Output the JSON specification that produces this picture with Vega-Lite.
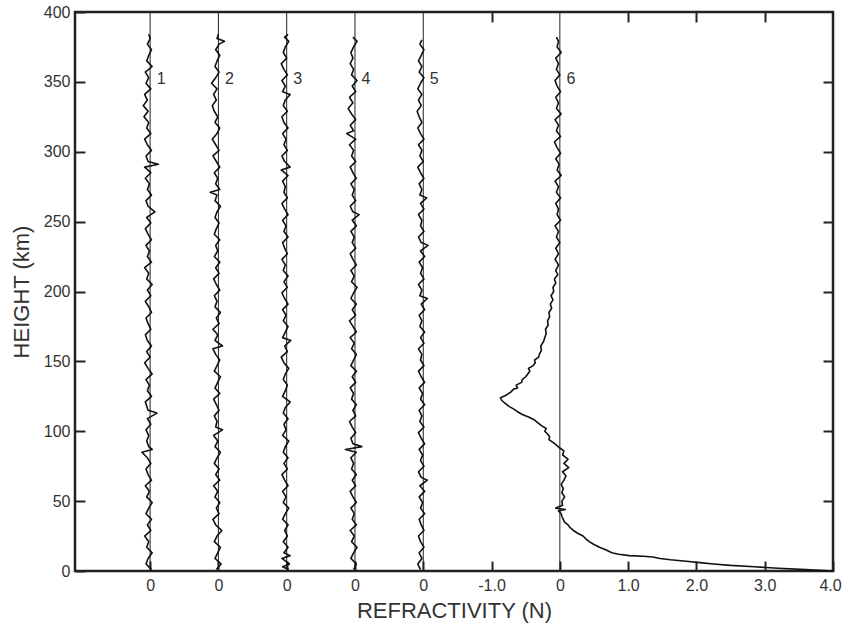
{
"$schema": "https://vega.github.io/schema/vega-lite/v6.json",
"width": 758, "height": 559,
"autosize": {"type": "none"},
"padding": {"left": 75, "top": 12, "right": 10, "bottom": 52},
"background": "white",
"config": {
  "view": {"stroke": "#222", "strokeWidth": 2.5},
  "font": "Liberation Sans",
  "axis": {"domain": false, "grid": false, "tickColor": "#222", "tickWidth": 2, "labelColor": "#333", "titleColor": "#333", "labelFont": "Liberation Sans", "titleFont": "Liberation Sans", "labelFontSize": 16, "titleFontSize": 22, "titleFontWeight": "normal", "labelFlush": false, "labelOverlap": false}
},
"datasets": {
  "labels": [{"p":1,"label":"1"},{"p":2,"label":"2"},{"p":3,"label":"3"},{"p":4,"label":"4"},{"p":5,"label":"5"},{"p":6,"label":"6"}],
  "prof": [
{"p":1,"h":1,"n":0.02},{"p":1,"h":5,"n":-0.06},{"p":1,"h":9,"n":-0.03},{"p":1,"h":13,"n":0.03},{"p":1,"h":17,"n":-0.05},{"p":1,"h":21,"n":-0.02},{"p":1,"h":25,"n":-0.08},{"p":1,"h":29,"n":0.01},{"p":1,"h":33,"n":-0.04},{"p":1,"h":37,"n":0.02},{"p":1,"h":41,"n":-0.06},{"p":1,"h":45,"n":-0.02},{"p":1,"h":49,"n":0.03},{"p":1,"h":53,"n":-0.05},{"p":1,"h":57,"n":-0.01},{"p":1,"h":61,"n":-0.07},{"p":1,"h":65,"n":0.02},{"p":1,"h":69,"n":-0.03},{"p":1,"h":73,"n":-0.06},{"p":1,"h":77,"n":0.01},{"p":1,"h":81,"n":-0.04},{"p":1,"h":85,"n":-0.12},{"p":1,"h":87,"n":0.03},{"p":1,"h":89,"n":-0.02},{"p":1,"h":93,"n":-0.05},{"p":1,"h":97,"n":-0.02},{"p":1,"h":101,"n":-0.06},{"p":1,"h":105,"n":0.01},{"p":1,"h":109,"n":-0.04},{"p":1,"h":113,"n":0.1},{"p":1,"h":115,"n":-0.03},{"p":1,"h":121,"n":-0.07},{"p":1,"h":125,"n":0.02},{"p":1,"h":129,"n":-0.04},{"p":1,"h":133,"n":-0.01},{"p":1,"h":137,"n":-0.06},{"p":1,"h":141,"n":0.03},{"p":1,"h":145,"n":-0.03},{"p":1,"h":149,"n":-0.08},{"p":1,"h":153,"n":0.0},{"p":1,"h":157,"n":-0.05},{"p":1,"h":161,"n":0.02},{"p":1,"h":165,"n":-0.04},{"p":1,"h":169,"n":-0.07},{"p":1,"h":173,"n":0.01},{"p":1,"h":177,"n":-0.03},{"p":1,"h":181,"n":-0.06},{"p":1,"h":185,"n":0.02},{"p":1,"h":189,"n":-0.02},{"p":1,"h":193,"n":-0.07},{"p":1,"h":197,"n":0.01},{"p":1,"h":201,"n":-0.04},{"p":1,"h":205,"n":0.03},{"p":1,"h":209,"n":-0.05},{"p":1,"h":213,"n":-0.02},{"p":1,"h":217,"n":-0.08},{"p":1,"h":221,"n":0.02},{"p":1,"h":225,"n":-0.04},{"p":1,"h":229,"n":-0.01},{"p":1,"h":233,"n":-0.06},{"p":1,"h":237,"n":0.02},{"p":1,"h":241,"n":-0.03},{"p":1,"h":245,"n":-0.07},{"p":1,"h":249,"n":0.01},{"p":1,"h":253,"n":-0.05},{"p":1,"h":257,"n":0.07},{"p":1,"h":261,"n":-0.03},{"p":1,"h":265,"n":-0.06},{"p":1,"h":269,"n":0.02},{"p":1,"h":273,"n":-0.04},{"p":1,"h":277,"n":-0.01},{"p":1,"h":281,"n":-0.07},{"p":1,"h":285,"n":0.01},{"p":1,"h":289,"n":-0.08},{"p":1,"h":291,"n":0.12},{"p":1,"h":293,"n":-0.03},{"p":1,"h":297,"n":-0.06},{"p":1,"h":301,"n":0.02},{"p":1,"h":305,"n":-0.04},{"p":1,"h":309,"n":-0.08},{"p":1,"h":313,"n":0.01},{"p":1,"h":317,"n":-0.05},{"p":1,"h":321,"n":-0.02},{"p":1,"h":325,"n":-0.09},{"p":1,"h":329,"n":-0.03},{"p":1,"h":333,"n":-0.1},{"p":1,"h":337,"n":-0.04},{"p":1,"h":341,"n":-0.08},{"p":1,"h":345,"n":0.01},{"p":1,"h":349,"n":-0.06},{"p":1,"h":353,"n":-0.02},{"p":1,"h":357,"n":-0.07},{"p":1,"h":361,"n":0.03},{"p":1,"h":365,"n":-0.05},{"p":1,"h":369,"n":-0.02},{"p":1,"h":373,"n":0.02},{"p":1,"h":377,"n":-0.04},{"p":1,"h":381,"n":0.0},{"p":1,"h":384,"n":-0.02},
{"p":2,"h":1,"n":-0.03},{"p":2,"h":5,"n":0.04},{"p":2,"h":9,"n":-0.05},{"p":2,"h":13,"n":-0.01},{"p":2,"h":17,"n":0.03},{"p":2,"h":21,"n":-0.06},{"p":2,"h":25,"n":-0.02},{"p":2,"h":29,"n":0.05},{"p":2,"h":33,"n":-0.04},{"p":2,"h":37,"n":-0.08},{"p":2,"h":41,"n":0.01},{"p":2,"h":45,"n":-0.03},{"p":2,"h":49,"n":0.02},{"p":2,"h":53,"n":-0.05},{"p":2,"h":57,"n":-0.01},{"p":2,"h":61,"n":-0.07},{"p":2,"h":65,"n":0.02},{"p":2,"h":69,"n":-0.04},{"p":2,"h":73,"n":0.01},{"p":2,"h":77,"n":-0.06},{"p":2,"h":81,"n":-0.02},{"p":2,"h":85,"n":0.03},{"p":2,"h":89,"n":-0.05},{"p":2,"h":93,"n":-0.01},{"p":2,"h":97,"n":-0.07},{"p":2,"h":101,"n":0.06},{"p":2,"h":103,"n":-0.04},{"p":2,"h":107,"n":-0.02},{"p":2,"h":111,"n":-0.06},{"p":2,"h":115,"n":0.01},{"p":2,"h":119,"n":-0.03},{"p":2,"h":123,"n":-0.07},{"p":2,"h":127,"n":0.02},{"p":2,"h":131,"n":-0.05},{"p":2,"h":135,"n":-0.01},{"p":2,"h":139,"n":0.03},{"p":2,"h":143,"n":-0.06},{"p":2,"h":147,"n":-0.02},{"p":2,"h":151,"n":0.02},{"p":2,"h":155,"n":-0.04},{"p":2,"h":159,"n":-0.08},{"p":2,"h":161,"n":0.06},{"p":2,"h":165,"n":-0.05},{"p":2,"h":169,"n":-0.01},{"p":2,"h":173,"n":-0.08},{"p":2,"h":177,"n":0.01},{"p":2,"h":181,"n":-0.03},{"p":2,"h":185,"n":0.03},{"p":2,"h":189,"n":-0.05},{"p":2,"h":193,"n":-0.02},{"p":2,"h":197,"n":-0.06},{"p":2,"h":201,"n":0.02},{"p":2,"h":205,"n":-0.03},{"p":2,"h":209,"n":-0.07},{"p":2,"h":213,"n":0.01},{"p":2,"h":217,"n":-0.04},{"p":2,"h":221,"n":0.02},{"p":2,"h":225,"n":-0.06},{"p":2,"h":229,"n":-0.01},{"p":2,"h":233,"n":-0.04},{"p":2,"h":237,"n":0.02},{"p":2,"h":241,"n":-0.06},{"p":2,"h":245,"n":-0.03},{"p":2,"h":249,"n":0.01},{"p":2,"h":253,"n":-0.05},{"p":2,"h":257,"n":-0.02},{"p":2,"h":261,"n":0.03},{"p":2,"h":265,"n":-0.05},{"p":2,"h":269,"n":-0.02},{"p":2,"h":271,"n":-0.12},{"p":2,"h":273,"n":0.02},{"p":2,"h":277,"n":-0.04},{"p":2,"h":281,"n":-0.01},{"p":2,"h":285,"n":-0.06},{"p":2,"h":289,"n":0.02},{"p":2,"h":293,"n":-0.03},{"p":2,"h":297,"n":-0.08},{"p":2,"h":301,"n":0.01},{"p":2,"h":305,"n":-0.04},{"p":2,"h":309,"n":-0.09},{"p":2,"h":313,"n":-0.02},{"p":2,"h":317,"n":0.02},{"p":2,"h":321,"n":-0.05},{"p":2,"h":325,"n":-0.01},{"p":2,"h":329,"n":-0.06},{"p":2,"h":333,"n":-0.09},{"p":2,"h":337,"n":-0.03},{"p":2,"h":341,"n":-0.07},{"p":2,"h":345,"n":-0.02},{"p":2,"h":349,"n":-0.1},{"p":2,"h":353,"n":-0.04},{"p":2,"h":357,"n":0.01},{"p":2,"h":361,"n":-0.05},{"p":2,"h":365,"n":-0.02},{"p":2,"h":369,"n":0.02},{"p":2,"h":373,"n":-0.04},{"p":2,"h":377,"n":0.01},{"p":2,"h":379,"n":0.09},{"p":2,"h":381,"n":-0.02},{"p":2,"h":384,"n":0.0},
{"p":3,"h":1,"n":0.03},{"p":3,"h":3,"n":-0.06},{"p":3,"h":5,"n":0.04},{"p":3,"h":9,"n":-0.07},{"p":3,"h":11,"n":0.05},{"p":3,"h":13,"n":-0.04},{"p":3,"h":17,"n":0.02},{"p":3,"h":21,"n":-0.05},{"p":3,"h":25,"n":0.01},{"p":3,"h":29,"n":-0.03},{"p":3,"h":33,"n":0.02},{"p":3,"h":37,"n":-0.06},{"p":3,"h":41,"n":-0.02},{"p":3,"h":45,"n":0.03},{"p":3,"h":49,"n":-0.05},{"p":3,"h":53,"n":-0.01},{"p":3,"h":57,"n":-0.06},{"p":3,"h":61,"n":0.02},{"p":3,"h":65,"n":-0.03},{"p":3,"h":69,"n":-0.07},{"p":3,"h":73,"n":0.01},{"p":3,"h":77,"n":-0.04},{"p":3,"h":81,"n":0.02},{"p":3,"h":85,"n":-0.05},{"p":3,"h":89,"n":-0.02},{"p":3,"h":93,"n":0.03},{"p":3,"h":97,"n":-0.06},{"p":3,"h":101,"n":-0.01},{"p":3,"h":105,"n":-0.04},{"p":3,"h":109,"n":0.02},{"p":3,"h":113,"n":-0.05},{"p":3,"h":117,"n":-0.02},{"p":3,"h":121,"n":0.05},{"p":3,"h":125,"n":-0.06},{"p":3,"h":129,"n":-0.02},{"p":3,"h":133,"n":0.01},{"p":3,"h":137,"n":-0.05},{"p":3,"h":141,"n":-0.02},{"p":3,"h":145,"n":0.03},{"p":3,"h":149,"n":-0.04},{"p":3,"h":153,"n":-0.08},{"p":3,"h":157,"n":0.01},{"p":3,"h":161,"n":-0.03},{"p":3,"h":165,"n":0.06},{"p":3,"h":167,"n":-0.06},{"p":3,"h":171,"n":-0.02},{"p":3,"h":175,"n":0.02},{"p":3,"h":179,"n":-0.05},{"p":3,"h":183,"n":-0.01},{"p":3,"h":187,"n":-0.06},{"p":3,"h":191,"n":0.02},{"p":3,"h":195,"n":-0.03},{"p":3,"h":199,"n":-0.07},{"p":3,"h":203,"n":0.01},{"p":3,"h":207,"n":-0.04},{"p":3,"h":211,"n":0.02},{"p":3,"h":215,"n":-0.05},{"p":3,"h":219,"n":-0.02},{"p":3,"h":223,"n":-0.07},{"p":3,"h":227,"n":0.01},{"p":3,"h":231,"n":-0.03},{"p":3,"h":235,"n":-0.06},{"p":3,"h":239,"n":0.02},{"p":3,"h":243,"n":-0.04},{"p":3,"h":247,"n":-0.01},{"p":3,"h":251,"n":-0.06},{"p":3,"h":255,"n":0.02},{"p":3,"h":259,"n":-0.03},{"p":3,"h":263,"n":-0.07},{"p":3,"h":267,"n":0.01},{"p":3,"h":271,"n":-0.04},{"p":3,"h":275,"n":-0.02},{"p":3,"h":279,"n":-0.06},{"p":3,"h":283,"n":0.02},{"p":3,"h":287,"n":-0.08},{"p":3,"h":289,"n":0.05},{"p":3,"h":293,"n":-0.03},{"p":3,"h":297,"n":-0.07},{"p":3,"h":301,"n":0.01},{"p":3,"h":305,"n":-0.04},{"p":3,"h":309,"n":-0.01},{"p":3,"h":313,"n":-0.06},{"p":3,"h":317,"n":0.02},{"p":3,"h":321,"n":-0.04},{"p":3,"h":325,"n":-0.07},{"p":3,"h":329,"n":0.01},{"p":3,"h":333,"n":-0.05},{"p":3,"h":337,"n":-0.02},{"p":3,"h":341,"n":0.05},{"p":3,"h":343,"n":-0.06},{"p":3,"h":347,"n":-0.02},{"p":3,"h":351,"n":-0.07},{"p":3,"h":355,"n":0.01},{"p":3,"h":359,"n":-0.04},{"p":3,"h":363,"n":-0.08},{"p":3,"h":367,"n":0.0},{"p":3,"h":371,"n":-0.05},{"p":3,"h":375,"n":-0.02},{"p":3,"h":379,"n":0.03},{"p":3,"h":382,"n":-0.03},{"p":3,"h":384,"n":0.02},
{"p":4,"h":1,"n":-0.02},{"p":4,"h":5,"n":0.02},{"p":4,"h":9,"n":-0.06},{"p":4,"h":13,"n":-0.02},{"p":4,"h":17,"n":0.03},{"p":4,"h":21,"n":-0.05},{"p":4,"h":25,"n":-0.01},{"p":4,"h":29,"n":-0.07},{"p":4,"h":33,"n":0.02},{"p":4,"h":37,"n":-0.04},{"p":4,"h":41,"n":-0.01},{"p":4,"h":45,"n":-0.06},{"p":4,"h":49,"n":0.02},{"p":4,"h":53,"n":-0.03},{"p":4,"h":57,"n":-0.07},{"p":4,"h":61,"n":0.01},{"p":4,"h":65,"n":-0.04},{"p":4,"h":69,"n":0.02},{"p":4,"h":73,"n":-0.05},{"p":4,"h":77,"n":-0.02},{"p":4,"h":81,"n":-0.06},{"p":4,"h":85,"n":0.02},{"p":4,"h":87,"n":-0.14},{"p":4,"h":89,"n":0.1},{"p":4,"h":91,"n":-0.03},{"p":4,"h":95,"n":-0.06},{"p":4,"h":99,"n":0.01},{"p":4,"h":103,"n":-0.04},{"p":4,"h":107,"n":-0.08},{"p":4,"h":111,"n":0.01},{"p":4,"h":115,"n":-0.03},{"p":4,"h":119,"n":0.02},{"p":4,"h":123,"n":-0.05},{"p":4,"h":127,"n":-0.02},{"p":4,"h":131,"n":-0.07},{"p":4,"h":135,"n":0.01},{"p":4,"h":139,"n":-0.04},{"p":4,"h":143,"n":0.02},{"p":4,"h":147,"n":-0.06},{"p":4,"h":151,"n":-0.02},{"p":4,"h":155,"n":0.02},{"p":4,"h":159,"n":-0.05},{"p":4,"h":163,"n":-0.01},{"p":4,"h":167,"n":-0.07},{"p":4,"h":171,"n":0.02},{"p":4,"h":175,"n":-0.03},{"p":4,"h":179,"n":-0.08},{"p":4,"h":183,"n":0.01},{"p":4,"h":187,"n":-0.04},{"p":4,"h":191,"n":0.02},{"p":4,"h":195,"n":-0.06},{"p":4,"h":199,"n":-0.02},{"p":4,"h":203,"n":0.03},{"p":4,"h":207,"n":-0.05},{"p":4,"h":211,"n":-0.01},{"p":4,"h":215,"n":-0.06},{"p":4,"h":219,"n":0.02},{"p":4,"h":223,"n":-0.03},{"p":4,"h":227,"n":-0.07},{"p":4,"h":231,"n":0.01},{"p":4,"h":235,"n":-0.04},{"p":4,"h":239,"n":-0.01},{"p":4,"h":243,"n":-0.06},{"p":4,"h":247,"n":0.02},{"p":4,"h":251,"n":-0.04},{"p":4,"h":255,"n":0.06},{"p":4,"h":257,"n":-0.03},{"p":4,"h":261,"n":-0.07},{"p":4,"h":265,"n":0.01},{"p":4,"h":269,"n":-0.04},{"p":4,"h":273,"n":-0.01},{"p":4,"h":277,"n":-0.06},{"p":4,"h":281,"n":0.02},{"p":4,"h":285,"n":-0.03},{"p":4,"h":289,"n":-0.07},{"p":4,"h":293,"n":0.01},{"p":4,"h":297,"n":-0.05},{"p":4,"h":301,"n":-0.02},{"p":4,"h":305,"n":-0.08},{"p":4,"h":309,"n":0.01},{"p":4,"h":313,"n":-0.12},{"p":4,"h":315,"n":-0.02},{"p":4,"h":319,"n":-0.07},{"p":4,"h":323,"n":0.01},{"p":4,"h":327,"n":-0.05},{"p":4,"h":331,"n":-0.1},{"p":4,"h":335,"n":-0.03},{"p":4,"h":339,"n":-0.08},{"p":4,"h":343,"n":0.01},{"p":4,"h":347,"n":-0.04},{"p":4,"h":351,"n":0.03},{"p":4,"h":355,"n":-0.05},{"p":4,"h":359,"n":-0.02},{"p":4,"h":363,"n":-0.07},{"p":4,"h":367,"n":-0.03},{"p":4,"h":371,"n":-0.06},{"p":4,"h":375,"n":-0.02},{"p":4,"h":379,"n":0.03},{"p":4,"h":382,"n":-0.03},
{"p":5,"h":1,"n":-0.04},{"p":5,"h":5,"n":-0.08},{"p":5,"h":9,"n":-0.02},{"p":5,"h":13,"n":-0.06},{"p":5,"h":17,"n":0.01},{"p":5,"h":21,"n":-0.04},{"p":5,"h":25,"n":-0.07},{"p":5,"h":29,"n":0.01},{"p":5,"h":33,"n":-0.03},{"p":5,"h":37,"n":-0.06},{"p":5,"h":41,"n":0.02},{"p":5,"h":45,"n":-0.04},{"p":5,"h":49,"n":-0.01},{"p":5,"h":53,"n":-0.06},{"p":5,"h":57,"n":0.02},{"p":5,"h":61,"n":-0.05},{"p":5,"h":65,"n":0.06},{"p":5,"h":67,"n":-0.03},{"p":5,"h":71,"n":-0.07},{"p":5,"h":75,"n":0.01},{"p":5,"h":79,"n":-0.04},{"p":5,"h":83,"n":-0.01},{"p":5,"h":87,"n":-0.06},{"p":5,"h":91,"n":0.02},{"p":5,"h":95,"n":-0.03},{"p":5,"h":99,"n":-0.07},{"p":5,"h":103,"n":0.01},{"p":5,"h":107,"n":-0.05},{"p":5,"h":111,"n":-0.02},{"p":5,"h":115,"n":-0.06},{"p":5,"h":119,"n":0.02},{"p":5,"h":123,"n":-0.04},{"p":5,"h":127,"n":-0.01},{"p":5,"h":131,"n":-0.06},{"p":5,"h":135,"n":0.02},{"p":5,"h":139,"n":-0.03},{"p":5,"h":143,"n":-0.07},{"p":5,"h":147,"n":0.01},{"p":5,"h":151,"n":-0.04},{"p":5,"h":155,"n":-0.02},{"p":5,"h":159,"n":-0.07},{"p":5,"h":163,"n":0.01},{"p":5,"h":167,"n":-0.04},{"p":5,"h":171,"n":0.02},{"p":5,"h":175,"n":-0.05},{"p":5,"h":179,"n":-0.02},{"p":5,"h":183,"n":-0.06},{"p":5,"h":187,"n":0.02},{"p":5,"h":191,"n":-0.03},{"p":5,"h":195,"n":0.06},{"p":5,"h":197,"n":-0.05},{"p":5,"h":201,"n":-0.02},{"p":5,"h":205,"n":-0.07},{"p":5,"h":209,"n":0.01},{"p":5,"h":213,"n":-0.04},{"p":5,"h":217,"n":-0.01},{"p":5,"h":221,"n":-0.06},{"p":5,"h":225,"n":0.02},{"p":5,"h":229,"n":-0.04},{"p":5,"h":233,"n":0.07},{"p":5,"h":235,"n":-0.03},{"p":5,"h":239,"n":-0.07},{"p":5,"h":243,"n":0.01},{"p":5,"h":247,"n":-0.04},{"p":5,"h":251,"n":-0.02},{"p":5,"h":255,"n":-0.07},{"p":5,"h":259,"n":0.01},{"p":5,"h":263,"n":-0.04},{"p":5,"h":267,"n":0.05},{"p":5,"h":269,"n":-0.05},{"p":5,"h":273,"n":-0.02},{"p":5,"h":277,"n":-0.06},{"p":5,"h":281,"n":0.01},{"p":5,"h":285,"n":-0.04},{"p":5,"h":289,"n":-0.08},{"p":5,"h":293,"n":0.0},{"p":5,"h":297,"n":-0.05},{"p":5,"h":301,"n":-0.02},{"p":5,"h":305,"n":-0.07},{"p":5,"h":309,"n":0.01},{"p":5,"h":313,"n":-0.04},{"p":5,"h":317,"n":-0.08},{"p":5,"h":321,"n":-0.02},{"p":5,"h":325,"n":-0.06},{"p":5,"h":329,"n":-0.09},{"p":5,"h":333,"n":-0.03},{"p":5,"h":337,"n":-0.07},{"p":5,"h":341,"n":-0.02},{"p":5,"h":345,"n":-0.08},{"p":5,"h":349,"n":-0.04},{"p":5,"h":353,"n":0.01},{"p":5,"h":357,"n":-0.06},{"p":5,"h":361,"n":-0.02},{"p":5,"h":365,"n":-0.07},{"p":5,"h":369,"n":-0.03},{"p":5,"h":373,"n":0.01},{"p":5,"h":377,"n":-0.05},{"p":5,"h":380,"n":-0.02},
{"p":6,"h":0,"n":4.0},{"p":6,"h":1,"n":3.6},{"p":6,"h":2,"n":3.2},{"p":6,"h":3,"n":2.85},{"p":6,"h":4,"n":2.5},{"p":6,"h":5,"n":2.25},{"p":6,"h":6,"n":2.05},{"p":6,"h":7,"n":1.85},{"p":6,"h":8,"n":1.62},{"p":6,"h":9,"n":1.47},{"p":6,"h":10,"n":1.36},{"p":6,"h":10.5,"n":1.22},{"p":6,"h":11,"n":1.02},{"p":6,"h":12,"n":0.86},{"p":6,"h":13,"n":0.76},{"p":6,"h":15,"n":0.68},{"p":6,"h":17,"n":0.58},{"p":6,"h":19,"n":0.5},{"p":6,"h":21,"n":0.43},{"p":6,"h":23,"n":0.38},{"p":6,"h":25,"n":0.34},{"p":6,"h":27,"n":0.26},{"p":6,"h":29,"n":0.2},{"p":6,"h":31,"n":0.15},{"p":6,"h":33,"n":0.12},{"p":6,"h":35,"n":0.07},{"p":6,"h":37,"n":0.05},{"p":6,"h":39,"n":0.03},{"p":6,"h":41,"n":0.02},{"p":6,"h":43,"n":-0.02},{"p":6,"h":44,"n":0.08},{"p":6,"h":45,"n":-0.06},{"p":6,"h":47,"n":0.04},{"p":6,"h":50,"n":0.03},{"p":6,"h":53,"n":0.07},{"p":6,"h":56,"n":0.03},{"p":6,"h":59,"n":0.05},{"p":6,"h":62,"n":0.02},{"p":6,"h":65,"n":0.06},{"p":6,"h":68,"n":0.09},{"p":6,"h":71,"n":0.04},{"p":6,"h":74,"n":0.13},{"p":6,"h":77,"n":0.06},{"p":6,"h":80,"n":0.12},{"p":6,"h":83,"n":0.04},{"p":6,"h":86,"n":0.06},{"p":6,"h":88,"n":0.0},{"p":6,"h":90,"n":-0.05},{"p":6,"h":92,"n":-0.1},{"p":6,"h":94,"n":-0.16},{"p":6,"h":96,"n":-0.15},{"p":6,"h":98,"n":-0.18},{"p":6,"h":100,"n":-0.22},{"p":6,"h":102,"n":-0.2},{"p":6,"h":104,"n":-0.27},{"p":6,"h":106,"n":-0.32},{"p":6,"h":108,"n":-0.37},{"p":6,"h":110,"n":-0.45},{"p":6,"h":112,"n":-0.55},{"p":6,"h":114,"n":-0.62},{"p":6,"h":116,"n":-0.68},{"p":6,"h":118,"n":-0.75},{"p":6,"h":120,"n":-0.8},{"p":6,"h":122,"n":-0.85},{"p":6,"h":124,"n":-0.87},{"p":6,"h":126,"n":-0.78},{"p":6,"h":128,"n":-0.72},{"p":6,"h":130,"n":-0.68},{"p":6,"h":131,"n":-0.62},{"p":6,"h":133,"n":-0.64},{"p":6,"h":135,"n":-0.56},{"p":6,"h":137,"n":-0.55},{"p":6,"h":139,"n":-0.5},{"p":6,"h":141,"n":-0.47},{"p":6,"h":143,"n":-0.44},{"p":6,"h":145,"n":-0.46},{"p":6,"h":147,"n":-0.39},{"p":6,"h":149,"n":-0.36},{"p":6,"h":151,"n":-0.37},{"p":6,"h":153,"n":-0.31},{"p":6,"h":155,"n":-0.3},{"p":6,"h":158,"n":-0.27},{"p":6,"h":161,"n":-0.28},{"p":6,"h":164,"n":-0.24},{"p":6,"h":167,"n":-0.22},{"p":6,"h":170,"n":-0.2},{"p":6,"h":173,"n":-0.21},{"p":6,"h":176,"n":-0.17},{"p":6,"h":179,"n":-0.18},{"p":6,"h":182,"n":-0.15},{"p":6,"h":185,"n":-0.16},{"p":6,"h":188,"n":-0.12},{"p":6,"h":191,"n":-0.14},{"p":6,"h":194,"n":-0.1},{"p":6,"h":197,"n":-0.13},{"p":6,"h":200,"n":-0.09},{"p":6,"h":203,"n":-0.1},{"p":6,"h":206,"n":-0.06},{"p":6,"h":209,"n":-0.08},{"p":6,"h":212,"n":-0.03},{"p":6,"h":215,"n":-0.06},{"p":6,"h":219,"n":-0.02},{"p":6,"h":223,"n":-0.07},{"p":6,"h":227,"n":-0.02},{"p":6,"h":231,"n":-0.06},{"p":6,"h":235,"n":0.0},{"p":6,"h":239,"n":-0.05},{"p":6,"h":243,"n":-0.02},{"p":6,"h":247,"n":-0.07},{"p":6,"h":251,"n":0.01},{"p":6,"h":255,"n":-0.04},{"p":6,"h":259,"n":-0.02},{"p":6,"h":263,"n":-0.06},{"p":6,"h":267,"n":0.01},{"p":6,"h":271,"n":-0.05},{"p":6,"h":275,"n":-0.02},{"p":6,"h":279,"n":-0.07},{"p":6,"h":283,"n":0.02},{"p":6,"h":287,"n":-0.04},{"p":6,"h":291,"n":-0.01},{"p":6,"h":295,"n":-0.06},{"p":6,"h":299,"n":0.01},{"p":6,"h":303,"n":-0.04},{"p":6,"h":307,"n":-0.08},{"p":6,"h":311,"n":0.01},{"p":6,"h":315,"n":-0.05},{"p":6,"h":319,"n":-0.02},{"p":6,"h":323,"n":-0.07},{"p":6,"h":327,"n":0.02},{"p":6,"h":331,"n":-0.05},{"p":6,"h":335,"n":-0.02},{"p":6,"h":339,"n":-0.06},{"p":6,"h":343,"n":0.01},{"p":6,"h":347,"n":-0.04},{"p":6,"h":351,"n":-0.07},{"p":6,"h":355,"n":0.0},{"p":6,"h":359,"n":-0.05},{"p":6,"h":363,"n":-0.02},{"p":6,"h":367,"n":-0.06},{"p":6,"h":371,"n":0.02},{"p":6,"h":375,"n":-0.04},{"p":6,"h":379,"n":-0.02},{"p":6,"h":382,"n":-0.05}
  ]
},
"layer": [
  {
    "data": {"name": "labels"},
    "transform": [{"calculate": "datum.p == 6 ? 0 : datum.p - 7", "as": "off"}],
    "mark": {"type": "rule", "color": "#222", "strokeWidth": 1},
    "encoding": {
      "x": {"field": "off", "type": "quantitative", "axis": null, "scale": {"domain": [-7.1, 4], "nice": false, "zero": false}}
    }
  },
  {
    "data": {"name": "prof"},
    "transform": [{"calculate": "datum.n + (datum.p == 6 ? 0 : datum.p - 7)", "as": "x"}],
    "mark": {"type": "line", "color": "#111", "strokeWidth": 1.6, "strokeJoin": "round"},
    "encoding": {
      "x": {"field": "x", "type": "quantitative", "scale": {"domain": [-7.1, 4], "nice": false, "zero": false},
        "axis": {"orient": "bottom", "title": "REFRACTIVITY (N)", "values": [-6,-5,-4,-3,-2,-1,0,1,2,3,4], "tickSize": -10, "labelPadding": 16, "titlePadding": 7,
          "labelOffset": {"condition": {"test": "datum.value == 4", "value": -3}, "value": 0},
          "labelExpr": "datum.value == -1 ? '-1.0' : (datum.value <= -2 || datum.value == 0 ? '0' : format(datum.value, '.1f'))"}},
      "y": {"field": "h", "type": "quantitative", "scale": {"domain": [0, 400], "nice": false},
        "axis": {"orient": "left", "title": "HEIGHT (km)", "values": [0,50,100,150,200,250,300,350,400], "tickSize": -10, "labelPadding": 15, "titlePadding": 10}},
      "detail": {"field": "p", "type": "nominal"},
      "order": {"field": "h", "type": "quantitative"}
    }
  },
  {
    "data": {"name": "prof"},
    "transform": [{"calculate": "datum.n + (datum.p == 6 ? 0 : datum.p - 7)", "as": "x"}],
    "mark": {"type": "point", "opacity": 0, "size": 0},
    "encoding": {
      "x": {"field": "x", "type": "quantitative", "axis": {"orient": "top", "labels": false, "title": null, "values": [-1,1,2,3], "tickSize": -10}},
      "y": {"field": "h", "type": "quantitative", "axis": {"orient": "right", "labels": false, "title": null, "values": [50,100,150,200,250,300,350], "tickSize": -10}}
    }
  },
  {
    "data": {"name": "labels"},
    "transform": [{"calculate": "datum.p == 6 ? 0 : datum.p - 7", "as": "off"}],
    "mark": {"type": "text", "fontSize": 16, "color": "#333", "dx": 11, "align": "center", "baseline": "middle", "font": "Liberation Sans"},
    "encoding": {
      "x": {"field": "off", "type": "quantitative", "axis": null},
      "y": {"datum": 352, "type": "quantitative", "axis": null},
      "text": {"field": "label"}
    }
  }
],
"resolve": {"axis": {"x": "independent", "y": "independent"}}
}
